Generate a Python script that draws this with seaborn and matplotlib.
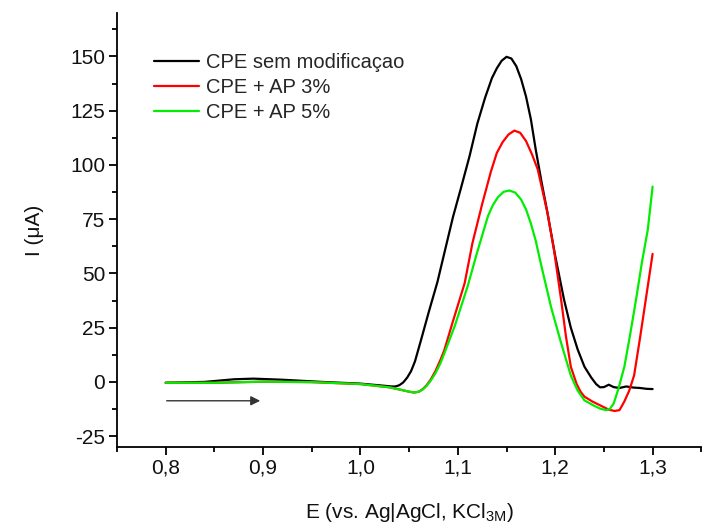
import matplotlib
matplotlib.use("Agg")
import matplotlib.pyplot as plt
import seaborn as sns
import pandas as pd
from matplotlib.ticker import MultipleLocator

# ---- data ----
series_names = ["CPE sem modificaçao", "CPE + AP 3%", "CPE + AP 5%"]
series_colors = ["#000000", "#ff0000", "#00ee00"]

x_black = [0.800, 0.840, 0.870, 0.890, 0.920, 0.960, 1.000, 1.020, 1.032, 1.036,
           1.040, 1.044, 1.048, 1.052, 1.056, 1.062, 1.070, 1.079, 1.087, 1.095,
           1.103, 1.112, 1.120, 1.128, 1.135, 1.140, 1.145, 1.150, 1.155, 1.160,
           1.165, 1.170, 1.175, 1.180, 1.186, 1.192, 1.200, 1.209, 1.216, 1.223,
           1.230, 1.237, 1.242, 1.246, 1.250, 1.255, 1.260, 1.266, 1.273, 1.280,
           1.287, 1.294, 1.300]
y_black = [-0.4, 0.0, 1.2, 1.5, 1.0, 0.0, -0.8, -1.6, -2.1, -2.1,
           -1.5, -0.2, 2.0, 5.0, 9.5, 19, 32, 46, 61, 76,
           89, 104, 119, 131, 140, 144.5, 148, 149.8, 149, 145.5,
           139.5, 131.5, 121, 107, 92, 78,
           58, 38, 25, 15, 7, 2, -1, -2.5, -2.4, -1.3,
           -2.4, -2.8, -2.1, -2.6, -2.8, -3.2, -3.3]

x_red = [0.800, 0.850, 0.900, 0.950, 1.000, 1.030, 1.045, 1.050, 1.055, 1.060,
         1.064, 1.068, 1.072, 1.077, 1.082, 1.086, 1.095, 1.107, 1.115, 1.125,
         1.134, 1.140, 1.146, 1.152, 1.158, 1.164, 1.170, 1.176, 1.182, 1.192,
         1.199, 1.206, 1.211, 1.216, 1.222, 1.226, 1.230, 1.238, 1.247, 1.255,
         1.261, 1.266, 1.271, 1.276, 1.281, 1.287, 1.293, 1.300]
y_red = [-0.4, -0.4, 0.1, -0.1, -1.0, -2.5, -4.0, -4.5, -4.9, -4.5,
         -3.3, -1.5, 1.0, 5.0, 10, 14.5, 28, 45.5, 64, 82,
         97, 105.5, 110.5, 114, 115.8, 114.8, 111, 105, 98, 78,
         60, 38, 21, 7, -1, -4.5, -6.8, -9, -11, -12.8,
         -13.4, -13.0, -9, -4, 3, 20, 38, 59]

x_green = [0.800, 0.850, 0.900, 0.950, 1.000, 1.030, 1.045, 1.050, 1.055, 1.060,
           1.064, 1.068, 1.072, 1.077, 1.082, 1.086, 1.097, 1.110, 1.120, 1.131,
           1.136, 1.141, 1.147, 1.153, 1.159, 1.165, 1.170, 1.175, 1.180, 1.186,
           1.196, 1.206, 1.216, 1.223, 1.230, 1.240, 1.246, 1.252, 1.256, 1.260,
           1.265, 1.271, 1.277, 1.283, 1.289, 1.295, 1.300]
y_green = [-0.4, -0.4, 0.1, -0.1, -1.0, -2.5, -4.0, -4.5, -4.9, -4.5,
           -3.5, -1.8, 0.5, 4, 8.5, 13, 26, 44, 60, 76.5,
           81.5, 85, 87.6, 88.2, 87.2, 84, 79.5, 73, 65, 53,
           34, 18, 3, -4, -8.5, -11, -12.3, -13, -12.5, -10,
           -3, 7, 22, 38, 55, 70, 90]

x_ticks = [0.8, 0.9, 1.0, 1.1, 1.2, 1.3]
x_tick_labels = ["0,8", "0,9", "1,0", "1,1", "1,2", "1,3"]
y_ticks = [-25, 0, 25, 50, 75, 100, 125, 150]
y_tick_labels = ["-25", "0", "25", "50", "75", "100", "125", "150"]

# ---- table ----
frames = []
for name, xs, ys in zip(series_names, [x_black, x_red, x_green], [y_black, y_red, y_green]):
    frames.append(pd.DataFrame({"E": xs, "I": ys, "serie": name}))
df = pd.concat(frames, ignore_index=True)

sns.set_style("ticks")
plt.rcParams["font.family"] = ["Liberation Sans", "DejaVu Sans"]
plt.rcParams["mathtext.fontset"] = "custom"
plt.rcParams["mathtext.rm"] = "Liberation Sans"

fig = plt.figure(figsize=(7.02, 5.30), dpi=100)
ax = fig.add_axes([0.1667, 0.1566, 0.8323, 0.8189])

sns.lineplot(data=df, x="E", y="I", hue="serie", hue_order=series_names,
             palette=dict(zip(series_names, series_colors)), linewidth=1.6,
             sort=False, estimator=None, ax=ax, legend=True)

ax.set_xlim(0.75, 1.35)
ax.set_ylim(-30, 170)
ax.set_xticks(x_ticks)
ax.set_xticklabels(x_tick_labels)
ax.set_yticks(y_ticks)
ax.set_yticklabels(y_tick_labels)
ax.xaxis.set_minor_locator(MultipleLocator(0.05))
ax.yaxis.set_minor_locator(MultipleLocator(12.5))
ax.tick_params(axis="both", which="major", direction="out", length=5.5, width=1.3,
               labelsize=15, color="black", labelcolor="#111111", pad=3)
ax.tick_params(axis="both", which="minor", direction="out", length=3.5, width=1.3, color="black")
for s in ["top", "right"]:
    ax.spines[s].set_visible(False)
for s in ["left", "bottom"]:
    ax.spines[s].set_linewidth(1.3)
    ax.spines[s].set_color("black")

ax.set_xlabel("E (vs. Ag|AgCl, KCl$_{\\mathregular{3M}}$)", fontsize=15, color="#111111", labelpad=17)
ax.set_ylabel("I (μA)", fontsize=15, color="#111111", labelpad=19)

ax.annotate("", xy=(0.897, -8.7), xytext=(0.801, -8.7),
            arrowprops=dict(arrowstyle="-|>", color="#333333", lw=1.0, mutation_scale=14,
                            shrinkA=0, shrinkB=0))

leg = ax.legend(loc="upper left", bbox_to_anchor=(0.049, 0.926), frameon=False,
                fontsize=14.5, handlelength=2.25, handletextpad=0.35, labelspacing=0.3,
                borderaxespad=0)
for line in leg.get_lines():
    line.set_linewidth(1.6)

fig.savefig("out.png", dpi=100)
